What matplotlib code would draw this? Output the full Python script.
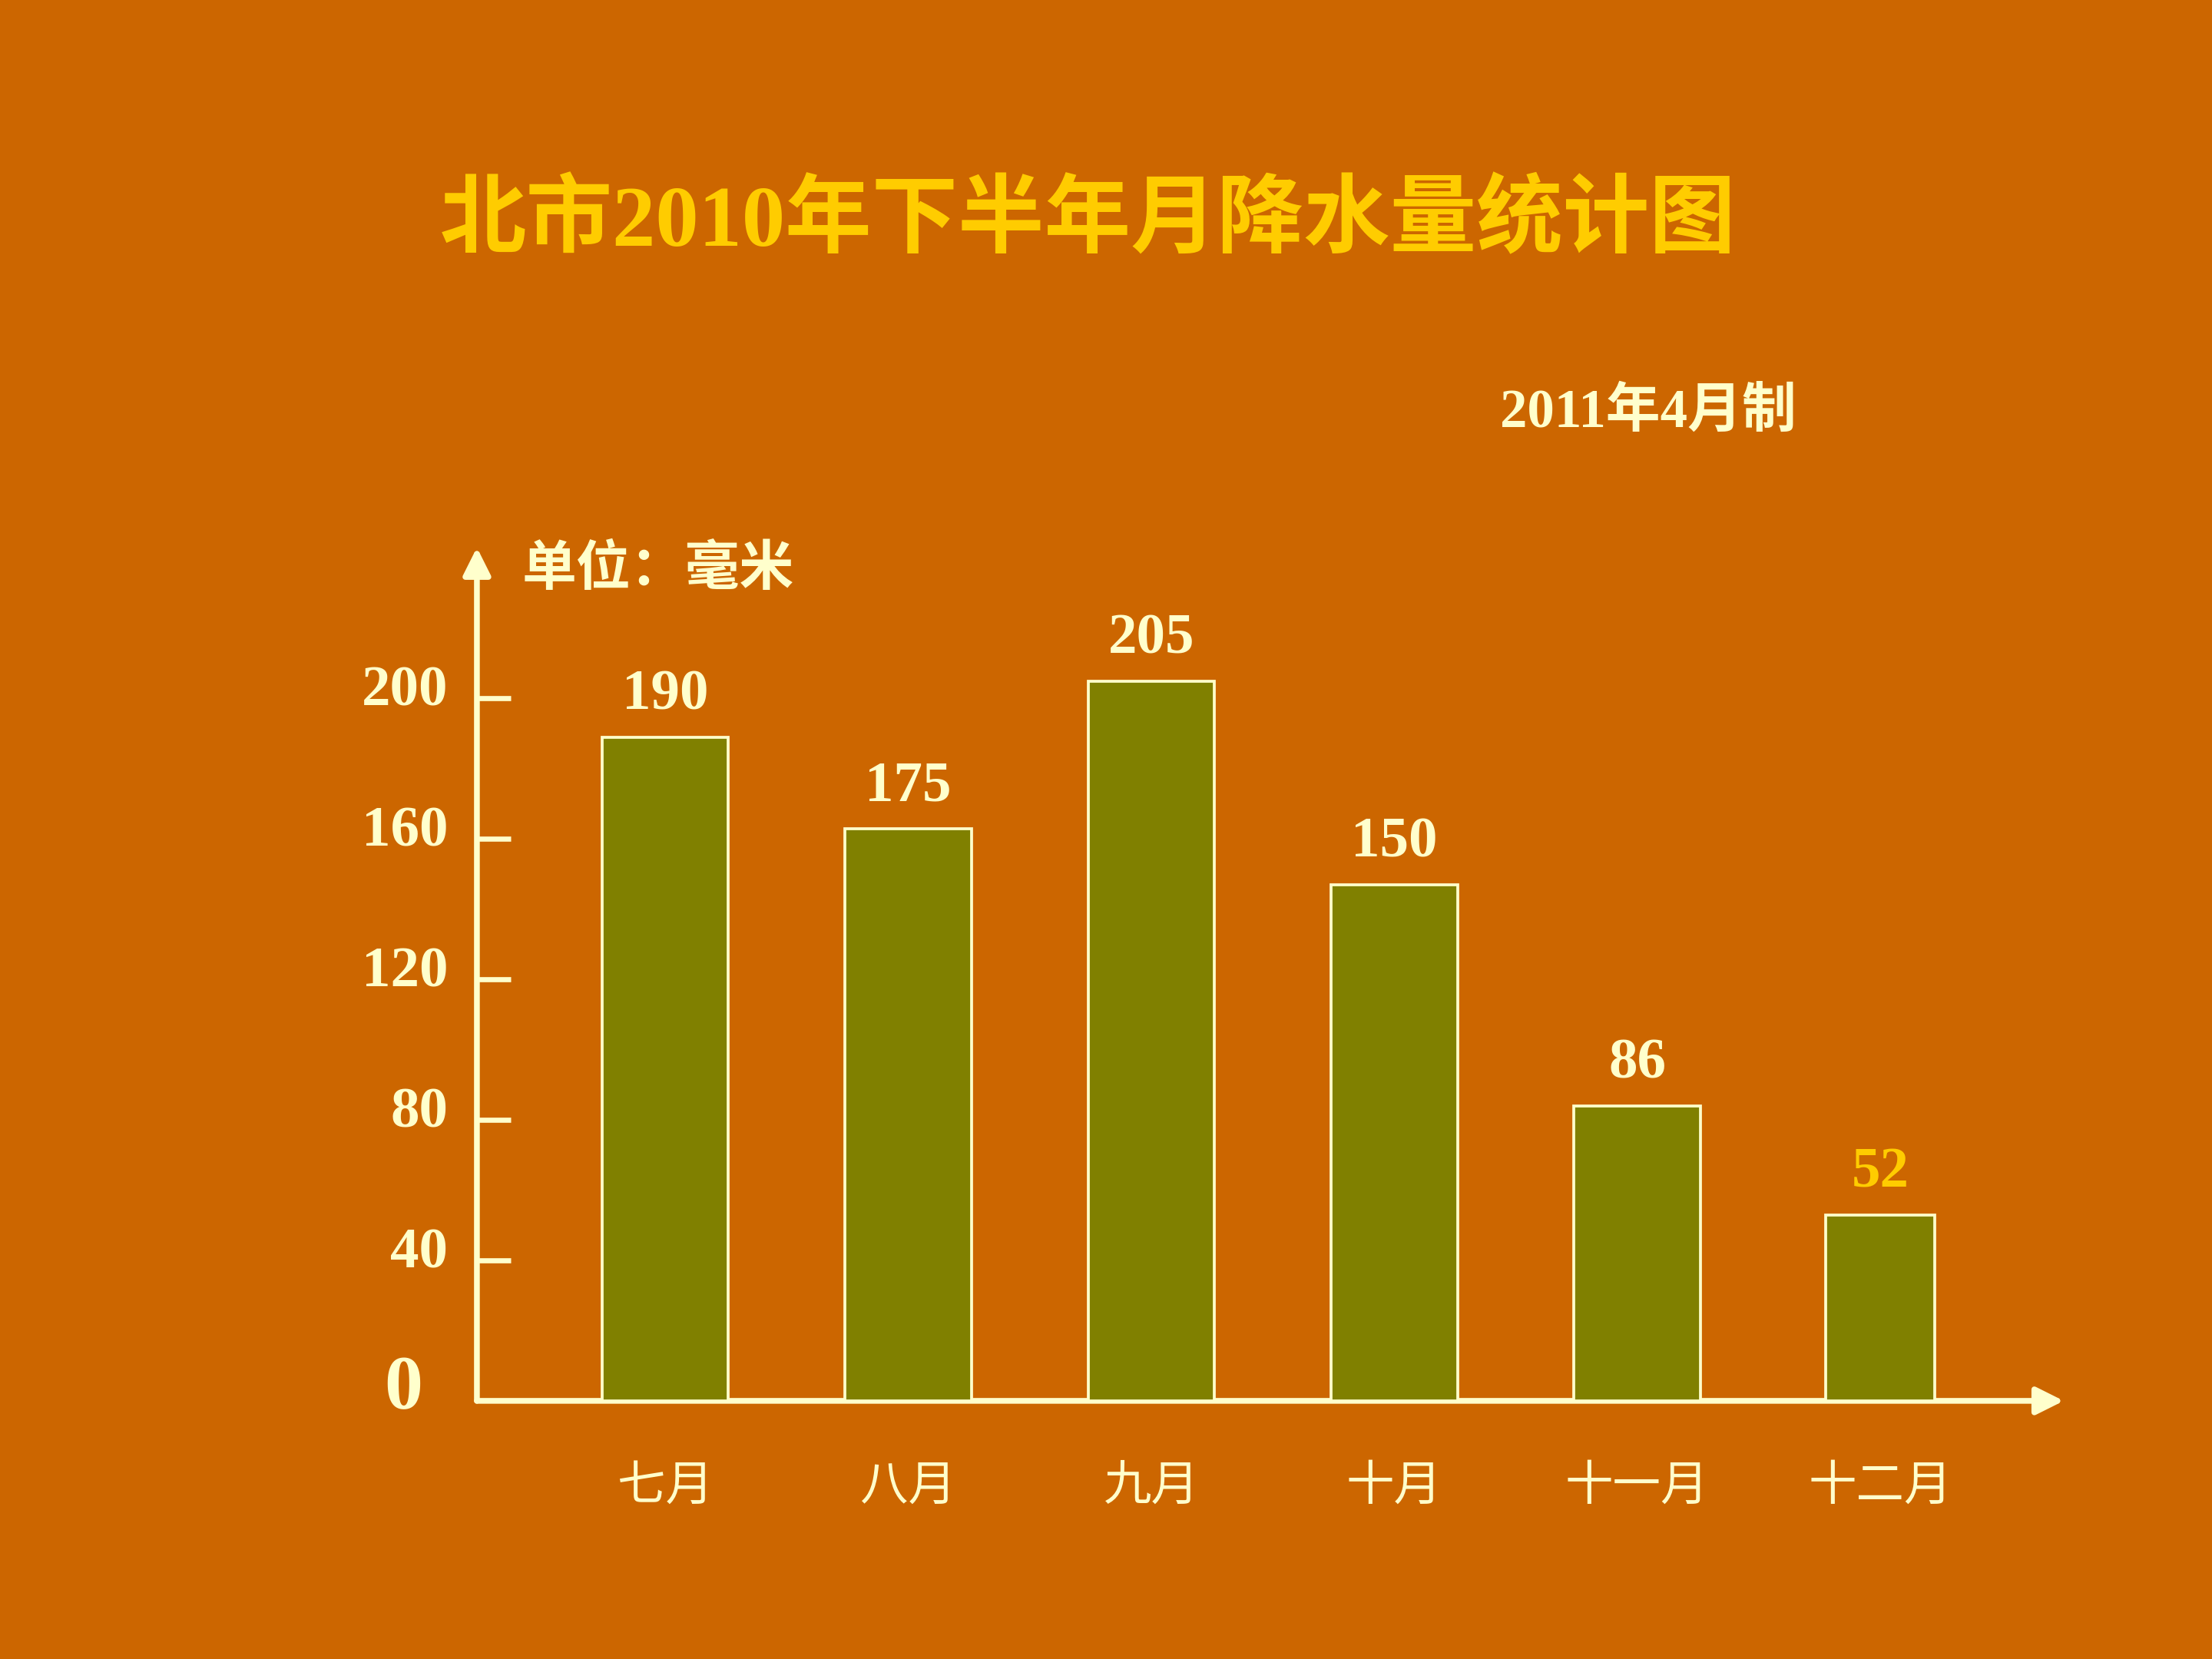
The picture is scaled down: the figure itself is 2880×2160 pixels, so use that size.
import matplotlib
matplotlib.use("Agg")
import matplotlib.pyplot as plt
from matplotlib.transforms import ScaledTranslation

# ---- data ----
months = ["七月", "八月", "九月", "十月", "十一月", "十二月"]
bar_heights = [189, 163, 205, 147, 84, 53]          # heights as drawn
value_labels = ["190", "175", "205", "150", "86", "52"]
y_ticks = [0, 40, 80, 120, 160, 200]
y_tick_labels = ["0", "40", "80", "120", "160", "200"]
title = "北市2010年下半年月降水量统计图"
subtitle = "2011年4月制"
unit_text = "单位：毫米"

BG = "#CC6600"
BAR = "#808000"
CREAM = "#FFFFCC"
GOLD = "#FFCC00"
FONT = ["Liberation Serif", "Noto Sans CJK SC", "DejaVu Sans"]
FONT_CJK = ["Noto Sans CJK SC", "DejaVu Sans"]

fig = plt.figure(figsize=(9.6, 7.2), dpi=300, facecolor=BG)
ax = fig.add_axes([0.2156, 0.1556, 0.933 - 0.2156, 0.670 - 0.1556])
ax.set_facecolor(BG)
for s in ax.spines.values():
    s.set_visible(False)

x = list(range(len(months)))
widths = [0.52] * 5 + [0.45]
ax.bar(x, bar_heights, width=widths, color=BAR, edgecolor=CREAM, linewidth=0.9, zorder=3)

ax.set_xlim(-0.775, 5.755)
ax.set_ylim(0, 243)

# axes with arrows
arrow = dict(arrowstyle="-|>,head_length=0.6,head_width=0.3", lw=1.8,
             color=CREAM, mutation_scale=12, shrinkA=0, shrinkB=0)
ax.annotate("", xy=(1, 0), xytext=(0, 0), xycoords="axes fraction",
            arrowprops=arrow, annotation_clip=False, zorder=2)
ax.annotate("", xy=(0, 1), xytext=(0, 0), xycoords="axes fraction",
            arrowprops=arrow, annotation_clip=False, zorder=2)

# y ticks
ax.set_yticks(y_ticks)
ax.set_yticklabels(y_tick_labels, fontfamily=FONT, fontweight="bold",
                   fontsize=18, color=CREAM)
ax.tick_params(axis="y", direction="in", length=10.5, width=1.6,
               color=CREAM, pad=9)
for lab in ax.get_yticklabels():
    if lab.get_text() == "0":
        lab.set_fontsize(24)
        lab.set_transform(lab.get_transform() +
                          ScaledTranslation(-8 / 72, 6 / 72, fig.dpi_scale_trans))
    else:
        lab.set_transform(lab.get_transform() +
                          ScaledTranslation(0, 4 / 72, fig.dpi_scale_trans))
ax.yaxis.get_major_ticks()[0].tick1line.set_visible(False)

# x labels
ax.set_xticks(x)
ax.set_xticklabels(months, fontfamily=FONT_CJK, fontsize=15, color=CREAM)
ax.tick_params(axis="x", length=0, pad=19)

# value labels
for xi, h, lab in zip(x, bar_heights, value_labels):
    col = GOLD if lab == "52" else CREAM
    ax.annotate(lab, xy=(xi, h), xytext=(0, 13), textcoords="offset points",
                ha="center", va="center", fontfamily=FONT, fontweight="bold",
                fontsize=18, color=col, annotation_clip=False)

# texts
fig.text(0.4917, 0.8656, title, ha="center", va="center", fontfamily=FONT,
         fontweight="bold", fontsize=27, color=GOLD)
fig.text(0.745, 0.751, subtitle, ha="center", va="center", fontfamily=FONT,
         fontweight="bold", fontsize=17, color=CREAM)
fig.text(0.236, 0.657, unit_text, ha="left", va="center", fontfamily=FONT_CJK,
         fontweight="bold", fontsize=17, color=CREAM)

fig.savefig("out.png", dpi=300, facecolor=BG)
